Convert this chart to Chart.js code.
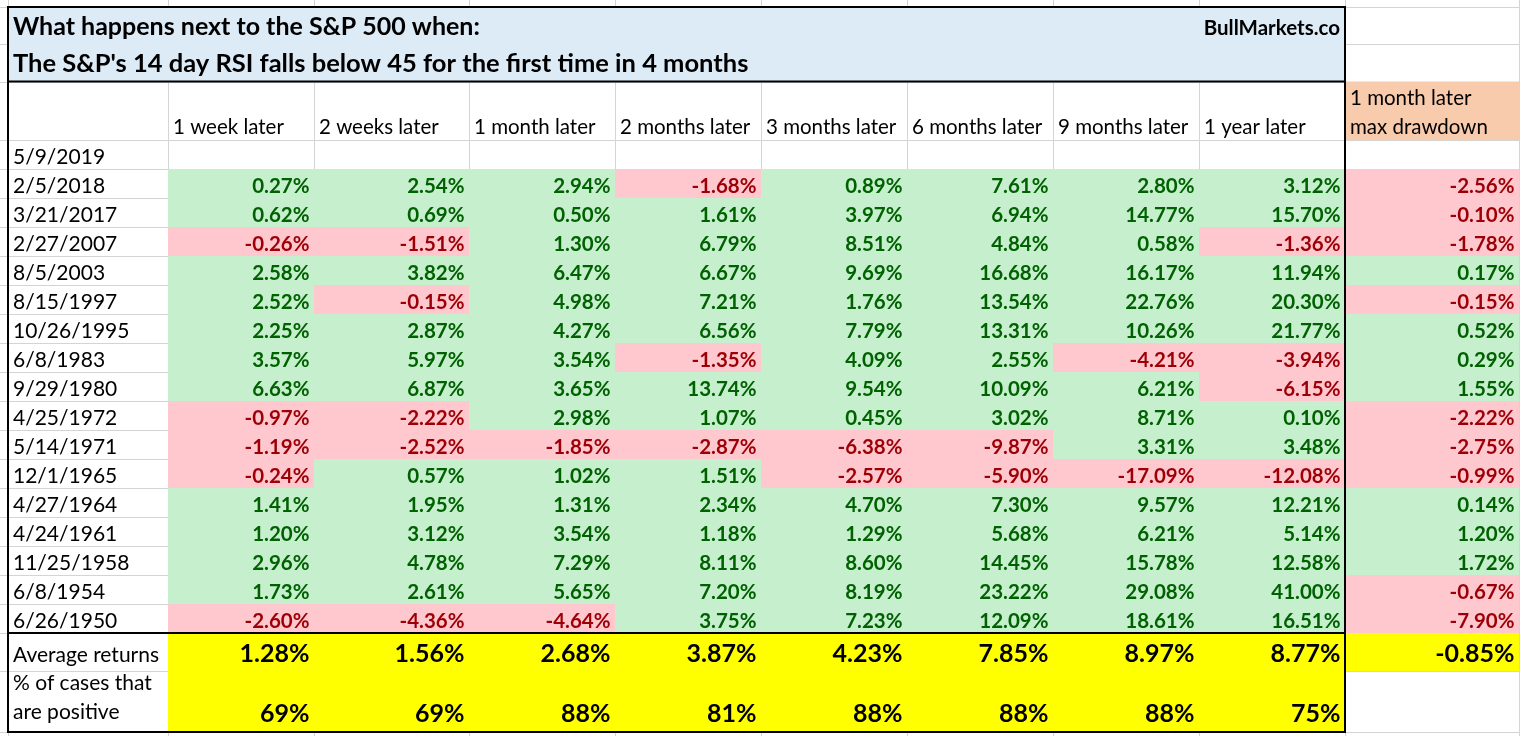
<!DOCTYPE html>
<html>
<head>
<meta charset="utf-8">
<script src="https://cdn.jsdelivr.net/npm/chart.js@4.4.1/dist/chart.umd.min.js"></script>
<style>
html,body{margin:0;padding:0;background:#ffffff;overflow:hidden}
canvas{display:block}
</style>
</head>
<body>
<canvas id="c" width="1520" height="736"></canvas>
<script>
// ---------- DATA ----------
const titleLine1 = "What happens next to the S&P 500 when:";
const titleLine2 = "The S&P's 14 day RSI falls below 45 for the first time in 4 months";
const brand = "BullMarkets.co";
const columnLabels = ["1 week later","2 weeks later","1 month later","2 months later","3 months later","6 months later","9 months later","1 year later"];
const drawdownLabel = ["1 month later","max drawdown"];
const currentSignal = "5/9/2019";
const dates = ["2/5/2018","3/21/2017","2/27/2007","8/5/2003","8/15/1997","10/26/1995","6/8/1983","9/29/1980","4/25/1972","5/14/1971","12/1/1965","4/27/1964","4/24/1961","11/25/1958","6/8/1954","6/26/1950"];
const week1   = [0.27,0.62,-0.26,2.58,2.52,2.25,3.57,6.63,-0.97,-1.19,-0.24,1.41,1.20,2.96,1.73,-2.60];
const weeks2  = [2.54,0.69,-1.51,3.82,-0.15,2.87,5.97,6.87,-2.22,-2.52,0.57,1.95,3.12,4.78,2.61,-4.36];
const month1  = [2.94,0.50,1.30,6.47,4.98,4.27,3.54,3.65,2.98,-1.85,1.02,1.31,3.54,7.29,5.65,-4.64];
const months2 = [-1.68,1.61,6.79,6.67,7.21,6.56,-1.35,13.74,1.07,-2.87,1.51,2.34,1.18,8.11,7.20,3.75];
const months3 = [0.89,3.97,8.51,9.69,1.76,7.79,4.09,9.54,0.45,-6.38,-2.57,4.70,1.29,8.60,8.19,7.23];
const months6 = [7.61,6.94,4.84,16.68,13.54,13.31,2.55,10.09,3.02,-9.87,-5.90,7.30,5.68,14.45,23.22,12.09];
const months9 = [2.80,14.77,0.58,16.17,22.76,10.26,-4.21,6.21,8.71,3.31,-17.09,9.57,6.21,15.78,29.08,18.61];
const year1   = [3.12,15.70,-1.36,11.94,20.30,21.77,-3.94,-6.15,0.10,3.48,-12.08,12.21,5.14,12.58,41.00,16.51];
const maxDrawdown = [-2.56,-0.10,-1.78,0.17,-0.15,0.52,0.29,1.55,-2.22,-2.75,-0.99,0.14,1.20,1.72,-0.67,-7.90];
const averageReturns = [1.28,1.56,2.68,3.87,4.23,7.85,8.97,8.77,-0.85];
const pctPositive = [69,69,88,81,88,88,88,75];
const avgLabel = "Average returns";
const pctLabel = ["% of cases that","are positive"];

// ---------- LAYOUT (sheet units) ----------
const colWidths = [8,160,146,155,146,146,146,146,146,146,174,1];
const rowHeights = [7,37,37.5,58.5,29,29,29,29,29,29,29,29,29,29,29,29,29,29,29,29,29,38,61,4];

const series = [week1,weeks2,month1,months2,months3,months6,months9,year1,maxDrawdown];

const colEdges = [0]; colWidths.forEach(w=>colEdges.push(colEdges[colEdges.length-1]+w));
const rowEdges = [0]; rowHeights.forEach(h=>rowEdges.push(rowEdges[rowEdges.length-1]+h));
const totalW = colEdges[colEdges.length-1];
const totalH = rowEdges[rowEdges.length-1];

const C = {
  grid:'#d4d4d4', title:'#ddebf7', orange:'#f8cbad', yellow:'#ffff00',
  posFill:'#c6efce', posText:'#006100', negFill:'#ffc7ce', negText:'#9c0006', ink:'#000000'
};
const FONT = 'Lato, "Open Sans", sans-serif';

const tablePlugin = {
  id:'table',
  afterDraw(chart){
    const ctx = chart.ctx, xs = chart.scales.x, ys = chart.scales.y;
    const X = i => xs.getPixelForValue(colEdges[i]);
    const Y = j => ys.getPixelForValue(rowEdges[j]);
    const rect = (c0,c1,r0,r1,color)=>{ctx.fillStyle=color;ctx.fillRect(X(c0),Y(r0),X(c1)-X(c0),Y(r1)-Y(r0));};
    ctx.save();
    ctx.fillStyle='#fff'; ctx.fillRect(0,0,chart.width,chart.height);
    // gridlines
    ctx.strokeStyle=C.grid; ctx.lineWidth=1;
    ctx.beginPath();
    for(let i=1;i<colEdges.length-1;i++){const x=Math.round(X(i))+0.5;ctx.moveTo(x,0);ctx.lineTo(x,chart.height);}
    for(let j=1;j<rowEdges.length-1;j++){const y=Math.round(Y(j))+0.5;ctx.moveTo(0,y);ctx.lineTo(chart.width,y);}
    ctx.stroke();
    // fills
    rect(1,10,1,3,C.title);
    rect(10,11,3,4,C.orange);
    const dataRow0 = 5;
    series.forEach((s,ci)=>{
      s.forEach((v,ri)=>{ rect(ci+2,ci+3,dataRow0+ri,dataRow0+ri+1, v>=0?C.posFill:C.negFill); });
    });
    rect(2,11,21,22,C.yellow);
    rect(2,10,22,23,C.yellow);
    // thick borders
    ctx.strokeStyle=C.ink; ctx.lineWidth=2;
    ctx.beginPath();
    ctx.moveTo(X(1),Y(1)); ctx.lineTo(X(10),Y(1));
    ctx.moveTo(X(1),Y(3)); ctx.lineTo(X(10),Y(3));
    ctx.moveTo(X(1),Y(21)); ctx.lineTo(X(10),Y(21));
    ctx.moveTo(X(1)-1,Y(23)); ctx.lineTo(X(10)+1,Y(23));
    ctx.moveTo(X(1),Y(1)-1); ctx.lineTo(X(1),Y(23)+1);
    ctx.moveTo(X(10),Y(1)-1); ctx.lineTo(X(10),Y(23)+1);
    ctx.stroke();
    // texts
    ctx.textBaseline='alphabetic';
    const txt=(s,x,y,font,color,align)=>{ctx.font=font;ctx.fillStyle=color;ctx.textAlign=align;ctx.fillText(s,x,y);};
    const padL=5, padR=4.5, base=5;
    txt(titleLine1, X(1)+5, Y(2)-9, 'bold 25px '+FONT, C.ink,'left');
    txt(titleLine2, X(1)+5, Y(3)-10, 'bold 25.5px '+FONT, C.ink,'left');
    txt(brand, X(10)-5, Y(2)-9, 'bold 20.5px '+FONT, C.ink,'right');
    const header='20.5px '+FONT, regular='21px '+FONT, bold='bold 20.5px '+FONT, big='bold 25px '+FONT;
    columnLabels.forEach((l,i)=>txt(l, X(i+2)+padL, Y(4)-base-1, header, C.ink,'left'));
    txt(drawdownLabel[0], X(10)+padL, Y(4)-base-30, header, C.ink,'left');
    txt(drawdownLabel[1], X(10)+padL, Y(4)-base-1, header, C.ink,'left');
    txt(currentSignal, X(1)+padL, Y(5)-base, regular, C.ink,'left');
    dates.forEach((d,ri)=>txt(d, X(1)+padL, Y(dataRow0+ri+1)-base, regular, C.ink,'left'));
    series.forEach((s,ci)=>{
      s.forEach((v,ri)=>txt(v.toFixed(2)+'%', X(ci+3)-padR, Y(dataRow0+ri+1)-base, bold, v>=0?C.posText:C.negText,'right'));
    });
    txt(avgLabel, X(1)+padL, Y(22)-base-4, regular, C.ink,'left');
    averageReturns.forEach((v,i)=>txt(v.toFixed(2)+'%', X(i+3)-padR, Y(22)-base-4, big, C.ink,'right'));
    txt(pctLabel[0], X(1)+padL, Y(23)-base-37, regular, C.ink,'left');
    txt(pctLabel[1], X(1)+padL, Y(23)-base-8, regular, C.ink,'left');
    pctPositive.forEach((v,i)=>txt(v+'%', X(i+3)-padR, Y(23)-base-5, big, C.ink,'right'));
    ctx.restore();
  }
};

new Chart(document.getElementById('c'), {
  type:'scatter',
  data:{datasets:[{data:[],pointRadius:0}]},
  options:{
    responsive:false, animation:false, devicePixelRatio:1,
    layout:{padding:0},
    plugins:{legend:{display:false},tooltip:{enabled:false}},
    scales:{
      x:{type:'linear',min:0,max:totalW,display:false},
      y:{type:'linear',min:0,max:totalH,reverse:true,display:false}
    }
  },
  plugins:[tablePlugin]
});
</script>
</body>
</html>
